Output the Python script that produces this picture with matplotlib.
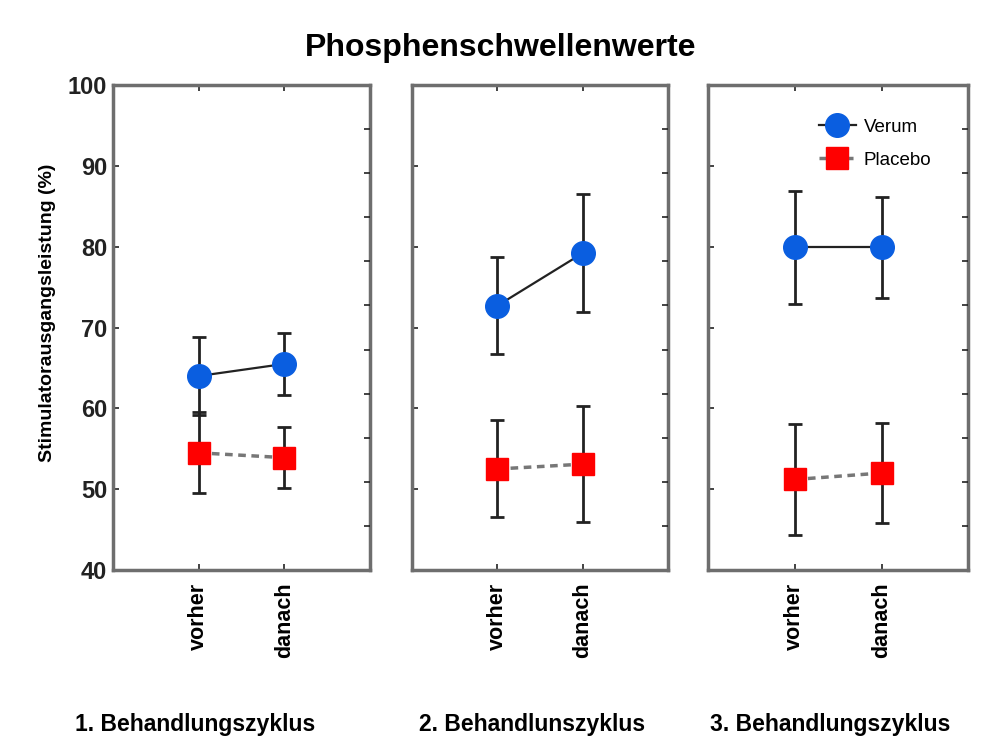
import numpy as np
import matplotlib
matplotlib.use('Agg')
import matplotlib.pyplot as plt
from matplotlib.lines import Line2D

plt.rcParams['font.family'] = ['Liberation Sans', 'DejaVu Sans']

# Werte
zeitpunkte = ['vorher', 'danach']
zyklen = ['1. Behandlungszyklus', '2. Behandlunszyklus', '3. Behandlungszyklus']
verum_mittel = [[64.0, 65.5], [72.7, 79.2], [79.9, 79.9]]
verum_fehler = [[4.8, 3.85], [6.0, 7.3], [7.0, 6.2]]
placebo_mittel = [[54.5, 53.9], [52.5, 53.1], [51.2, 52.0]]
placebo_fehler = [[5.0, 3.8], [6.0, 7.2], [6.9, 6.2]]

blau = '#0a5ee0'
rot = '#ff0000'
rahmen = '#6e6e6e'

fig = plt.figure(figsize=(9.82, 7.43), dpi=100)
lefts = [0.115, 0.4196, 0.721]
widths = [0.262, 0.2607, 0.265]
bottom, height = 0.2328, 0.6528
text_x = [0.076, 0.427, 0.723]

x = np.arange(len(zeitpunkte))
for i in range(3):
    ax = fig.add_axes([lefts[i], bottom, widths[i], height])
    ax.errorbar(x, placebo_mittel[i], yerr=placebo_fehler[i], color='#777777',
                ls=(0, (2.2, 1.6)), lw=2.5, marker='s', ms=16, mfc=rot, mec=rot,
                ecolor='#222222', elinewidth=2, capsize=5, capthick=2, zorder=3)
    ax.errorbar(x, verum_mittel[i], yerr=verum_fehler[i], color='#222222',
                ls='-', lw=1.6, marker='o', ms=17, mfc=blau, mec=blau,
                ecolor='#222222', elinewidth=2, capsize=5, capthick=2, zorder=4)
    ax.set_xlim(-1, 2)
    ax.set_ylim(40, 100)
    ax.set_yticks(np.arange(40, 101, 10))
    ax.set_xticks(x)
    ax.set_xticklabels(zeitpunkte, rotation=90, fontsize=15.5, fontweight='bold')
    ax.tick_params(axis='both', direction='in', length=4, width=1.2, colors='#222222',
                   top=True)
    ax.tick_params(axis='x', labelcolor='black', pad=9)
    ax.tick_params(axis='y', pad=4)
    if i == 0:
        ax.set_yticklabels([str(v) for v in range(40, 101, 10)], fontsize=17,
                           fontweight='bold')
        ax.set_ylabel('Stimulatorausgangsleistung (%)', fontsize=14,
                      fontweight='bold')
        ax.yaxis.set_label_coords(-0.22, 0.53)
    else:
        ax.set_yticklabels([])
    for s in ax.spines.values():
        s.set_color(rahmen)
        s.set_linewidth(2.5)
    # rechte Achse mit eigener Teilung
    ax2 = ax.twinx()
    ax2.set_ylim(0, 11)
    ax2.set_yticks(np.arange(1, 11))
    ax2.set_yticklabels([])
    ax2.tick_params(axis='y', direction='in', length=4, width=1.2, colors='#222222')
    for s in ax2.spines.values():
        s.set_visible(False)
    fig.text(text_x[i], 0.016, zyklen[i], fontsize=16.5, fontweight='bold', ha='left')

    if i == 2:
        handles = [Line2D([], [], color='#222222', lw=1.6, marker='o', ms=17,
                          mfc=blau, mec=blau),
                   Line2D([], [], color='#777777', lw=2.5, ls=(0, (2.2, 1.6)),
                          marker='s', ms=16, mfc=rot, mec=rot)]
        ax.legend(handles, ['Verum', 'Placebo'], loc='upper left',
                  bbox_to_anchor=(0.36, 0.965), frameon=False,
                  fontsize=13.5, handlelength=2.0, handletextpad=0.4,
                  labelspacing=0.85)

fig.suptitle('Phosphenschwellenwerte', fontsize=23, fontweight='bold', x=0.51, y=0.955)
fig.savefig('out.png', dpi=100)
